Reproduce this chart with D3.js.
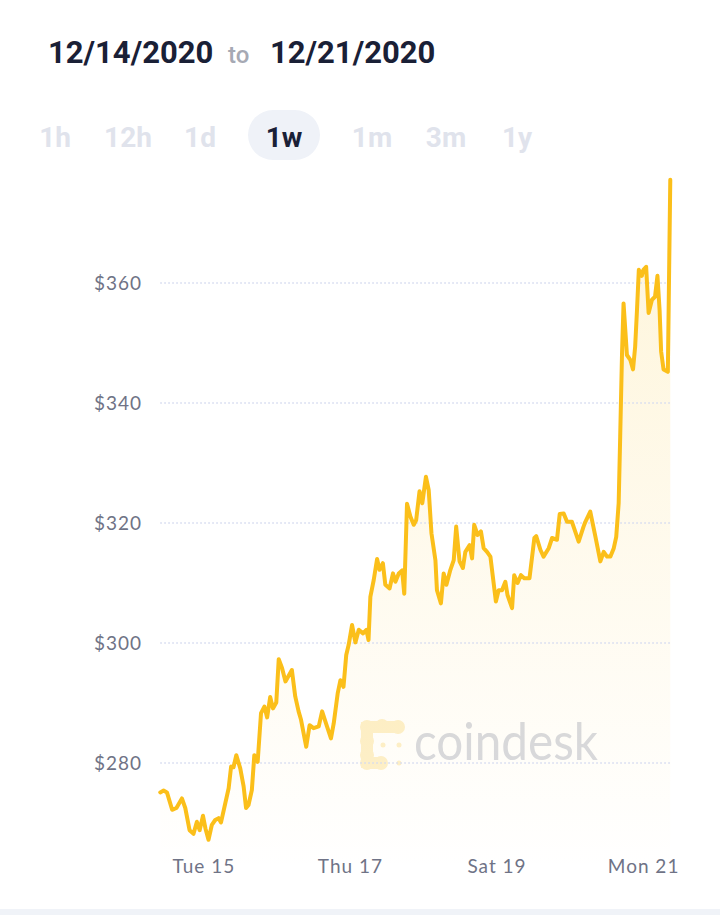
<!DOCTYPE html>
<html>
<head>
<meta charset="utf-8">
<script src="https://cdn.jsdelivr.net/npm/d3@7"></script>
<style>
  html, body { margin: 0; padding: 0; background: #fff; }
  svg { display: block; }
</style>
</head>
<body>
<div id="chart"></div>
<script>
// Range header and period buttons
const startLabel = "12/14/2020";
const endLabel = "12/21/2020";
const periods = ["1h", "12h", "1d", "1w", "1m", "3m", "1y"];
const activePeriod = "1w";

// Hours since 12/14/2020 00:00 UTC, and ETH price (USD)
const hours = [
  9.9, 11.0, 12.1, 13.8, 15.2, 17.0, 18.1, 19.5, 20.8, 21.9,
  22.8, 23.9, 24.7, 25.7, 26.8, 27.9, 29.0, 29.8, 31.2, 32.3,
  33.1, 33.9, 34.8, 36.1, 37.2, 38.0, 38.8, 39.9, 40.7, 41.8,
  42.9, 44.0, 44.9, 45.9, 46.8, 47.9, 48.7, 49.8, 50.9, 53.0,
  54.1, 55.2, 56.0, 57.7, 58.8, 60.1, 61.8, 62.9, 64.5, 65.8,
  66.7, 68.0, 68.9, 69.9, 70.8, 71.6, 72.7, 73.8, 74.9, 76.3,
  77.4, 78.1, 78.7, 79.8, 80.9, 81.7, 82.8, 83.6, 85.0, 86.1,
  86.9, 88.0, 89.1, 89.8, 90.7, 91.8, 92.9, 93.7, 94.8, 95.7,
  96.9, 97.8, 98.7, 100.0, 100.5, 101.8, 102.7, 103.6, 104.9, 106.0,
  106.8, 107.9, 109.0, 109.8, 111.2, 112.0, 112.7, 113.8, 114.9, 115.8,
  116.9, 118.0, 119.8, 120.7, 121.8, 122.9, 123.6, 125.1, 125.8, 126.9,
  128.0, 129.1, 130.8, 132.4, 133.0, 134.4, 135.4, 137.1, 138.2, 139.8,
  140.7, 142.0, 143.1, 144.7, 146.9, 148.5, 149.1, 150.7, 152.4, 154.0,
  155.1, 156.2, 157.3, 158.4, 159.2, 160.0, 160.5, 161.1, 161.6, 162.7,
  163.8, 164.7, 165.4, 166.0, 166.6, 167.6, 168.1, 169.0, 169.8, 170.9,
  171.9, 172.7, 173.4, 173.9, 174.7, 176.1, 176.9
];
const prices = [
  275.1, 275.4, 275.1, 272.2, 272.5, 274.1, 272.5, 268.8, 268.2, 270.2,
  268.8, 271.2, 269.1, 267.2, 269.7, 270.5, 270.8, 270.1, 273.3, 275.8,
  279.4, 279.3, 281.3, 279.1, 276.1, 272.5, 273.0, 275.5, 281.3, 280.2,
  288.3, 289.4, 287.6, 291.0, 289.1, 290.1, 297.3, 295.8, 293.6, 295.5,
  291.1, 288.6, 287.2, 282.7, 286.3, 285.8, 286.1, 288.6, 286.1, 284.1,
  286.6, 291.6, 293.8, 292.7, 298.0, 299.7, 303.0, 300.1, 302.2, 301.6,
  302.2, 300.5, 307.7, 310.5, 314.0, 312.2, 313.3, 309.7, 309.1, 311.6,
  310.2, 311.6, 312.1, 308.2, 323.2, 321.1, 319.7, 320.5, 325.3, 323.3,
  327.7, 325.5, 318.3, 313.8, 308.8, 306.6, 311.6, 309.7, 312.2, 313.8,
  319.4, 313.6, 312.5, 315.2, 316.3, 314.1, 319.7, 318.0, 318.6, 315.8,
  315.2, 314.4, 306.9, 308.8, 308.8, 310.2, 308.0, 305.8, 311.3, 310.0,
  311.3, 310.8, 310.8, 317.5, 317.8, 315.5, 314.4, 315.8, 317.5, 317.2,
  321.5, 321.6, 320.2, 320.2, 316.9, 319.4, 320.2, 321.9, 317.7, 313.6,
  315.2, 314.4, 314.4, 315.8, 317.7, 323.3, 334.4, 348.3, 356.6, 348.0,
  347.2, 345.6, 349.4, 355.5, 362.2, 361.2, 362.2, 362.7, 355.0, 357.2,
  357.7, 361.2, 355.5, 348.6, 345.6, 345.2, 377.2
];

// Axis ticks
const yTicks = [280, 300, 320, 340, 360];
const xTickDays = ["2020-12-15", "2020-12-17", "2020-12-19", "2020-12-21"];

const width = 720;
const height = 915;
const t0 = Date.UTC(2020, 11, 14);
const data = hours.map((h, i) => ({ date: new Date(t0 + h * 3600e3), price: prices[i] }));

const svg = d3.select("#chart")
  .append("svg")
    .attr("width", width)
    .attr("height", height)
    .attr("viewBox", `0 0 ${width} ${height}`);

/****************************/
/*    Header and buttons    */
/****************************/
const header = svg.append("text")
    .attr("y", 63)
    .style("font-family", "Roboto, sans-serif")
    .style("font-weight", 700);
header.append("tspan")
    .text(startLabel)
    .attr("x", 48)
    .attr("fill", "#1a2036")
    .style("font-size", "31px");
header.append("tspan")
    .text("to")
    .attr("x", 228)
    .attr("fill", "#a6a9b4")
    .style("font-size", "24px")
    .style("font-weight", 500);
header.append("tspan")
    .text(endLabel)
    .attr("x", 270)
    .attr("fill", "#1a2036")
    .style("font-size", "31px");

const buttonCenters = { "1h": 55, "12h": 128, "1d": 200, "1w": 284, "1m": 372, "3m": 446, "1y": 517 };

svg.append("rect")
    .attr("x", buttonCenters[activePeriod] - 36)
    .attr("y", 110)
    .attr("width", 72)
    .attr("height", 50)
    .attr("rx", 25)
    .attr("fill", "#eff2f8");

svg.selectAll(".period")
  .data(periods)
  .join("text")
    .attr("class", "period")
    .attr("x", d => buttonCenters[d])
    .attr("y", 147)
    .attr("text-anchor", "middle")
    .attr("fill", d => d === activePeriod ? "#1a2036" : "#e0e3ec")
    .style("font-family", "Roboto, sans-serif")
    .style("font-weight", 700)
    .style("font-size", "28px")
    .text(d => d);

/****************************/
/*    Declare the scales    */
/****************************/
const xScale = d3.scaleUtc()
  .domain([new Date(t0), new Date(t0 + 8 * 864e5)])
  .range([130, 716.4]);

const yScale = d3.scaleLinear()
  .domain([260, 380])
  .range([883, 163]);

const xStart = xScale(data[0].date);
const xEnd = xScale(data[data.length - 1].date);

/***************************/
/*    Gradient and grid    */
/***************************/
const defs = svg.append("defs");
const grad = defs.append("linearGradient")
    .attr("id", "area-fill")
    .attr("gradientUnits", "userSpaceOnUse")
    .attr("x1", 0).attr("x2", 0)
    .attr("y1", yScale(377)).attr("y2", yScale(262));
grad.append("stop").attr("offset", 0).attr("stop-color", "#fbc11b").attr("stop-opacity", 0.17);
grad.append("stop").attr("offset", 1).attr("stop-color", "#fbc11b").attr("stop-opacity", 0);

// Watermark
const logoColor = "#fdf0cb";
const mark = svg.append("g").attr("class", "watermark");
const blobs = [[367, 727], [382, 726], [398, 727], [367, 741], [367, 755], [367, 763], [381, 763]];
mark.selectAll("circle.blob")
  .data(blobs)
  .join("circle")
    .attr("class", "blob")
    .attr("cx", d => d[0])
    .attr("cy", d => d[1])
    .attr("r", 7)
    .attr("fill", logoColor);
mark.append("rect")
    .attr("x", 361).attr("y", 722).attr("width", 12).attr("height", 46)
    .attr("fill", logoColor);
mark.append("rect")
    .attr("x", 364).attr("y", 721).attr("width", 36).attr("height", 12)
    .attr("fill", logoColor);
mark.append("rect")
    .attr("x", 364).attr("y", 757).attr("width", 18).attr("height", 12)
    .attr("fill", logoColor);
mark.selectAll("circle.dot")
  .data([[383, 745], [399, 745], [399, 763]])
  .join("circle")
    .attr("class", "dot")
    .attr("cx", d => d[0])
    .attr("cy", d => d[1])
    .attr("r", 2.5)
    .attr("fill", logoColor);
mark.append("text")
    .attr("x", 414)
    .attr("y", 760)
    .attr("textLength", 184)
    .attr("lengthAdjust", "spacingAndGlyphs")
    .attr("fill", "#d7d9e0")
    .style("font-family", "Lato, sans-serif")
    .style("font-weight", 400)
    .style("font-size", "52px")
    .text("coindesk");

// Area under the line
const area = d3.area()
  .x(d => xScale(d.date))
  .y0(yScale(262))
  .y1(d => yScale(d.price));
svg.append("path")
    .datum(data)
    .attr("d", area)
    .attr("fill", "url(#area-fill)");

// Dotted horizontal grid
svg.selectAll(".grid")
  .data(yTicks)
  .join("line")
    .attr("class", "grid")
    .attr("x1", xStart)
    .attr("x2", xEnd)
    .attr("y1", d => yScale(d))
    .attr("y2", d => yScale(d))
    .attr("stroke", "#d5dbef")
    .attr("stroke-width", 1.6)
    .attr("stroke-dasharray", "1.6,2.4");

/***************************/
/*     Append the axes     */
/***************************/
const leftAxis = d3.axisLeft(yScale)
  .tickValues(yTicks)
  .tickFormat(d => `$${d}`)
  .tickSize(0)
  .tickPadding(0);
svg.append("g")
    .attr("class", "axis-y")
    .attr("transform", "translate(142, 0)")
    .call(leftAxis)
    .call(g => g.select(".domain").remove())
    .call(g => g.selectAll("text")
      .attr("fill", "#6f7386")
      .style("font-family", "Lato, sans-serif")
      .style("font-size", "19px")
      .style("letter-spacing", "1px"));

const bottomAxis = d3.axisBottom(xScale)
  .tickValues(xTickDays.map(d => new Date(d + "T00:00:00Z")))
  .tickFormat(d3.utcFormat("%a %-d"))
  .tickSize(0)
  .tickPadding(0);
svg.append("g")
    .attr("class", "axis-x")
    .attr("transform", "translate(0, 859)")
    .call(bottomAxis)
    .call(g => g.select(".domain").remove())
    .call(g => g.selectAll("text")
      .attr("fill", "#6f7386")
      .style("font-family", "Lato, sans-serif")
      .style("font-size", "19px")
      .style("letter-spacing", "1px"));

/***************************/
/*     Append the line     */
/***************************/
const line = d3.line()
  .x(d => xScale(d.date))
  .y(d => yScale(d.price));
svg.append("path")
    .datum(data)
    .attr("d", line)
    .attr("fill", "none")
    .attr("stroke", "#fbbf1a")
    .attr("stroke-width", 4)
    .attr("stroke-linejoin", "round")
    .attr("stroke-linecap", "round");

// Footer strip
svg.append("rect")
    .attr("x", 0)
    .attr("y", 909)
    .attr("width", width)
    .attr("height", 6)
    .attr("fill", "#f0f3f8");
</script>
</body>
</html>
